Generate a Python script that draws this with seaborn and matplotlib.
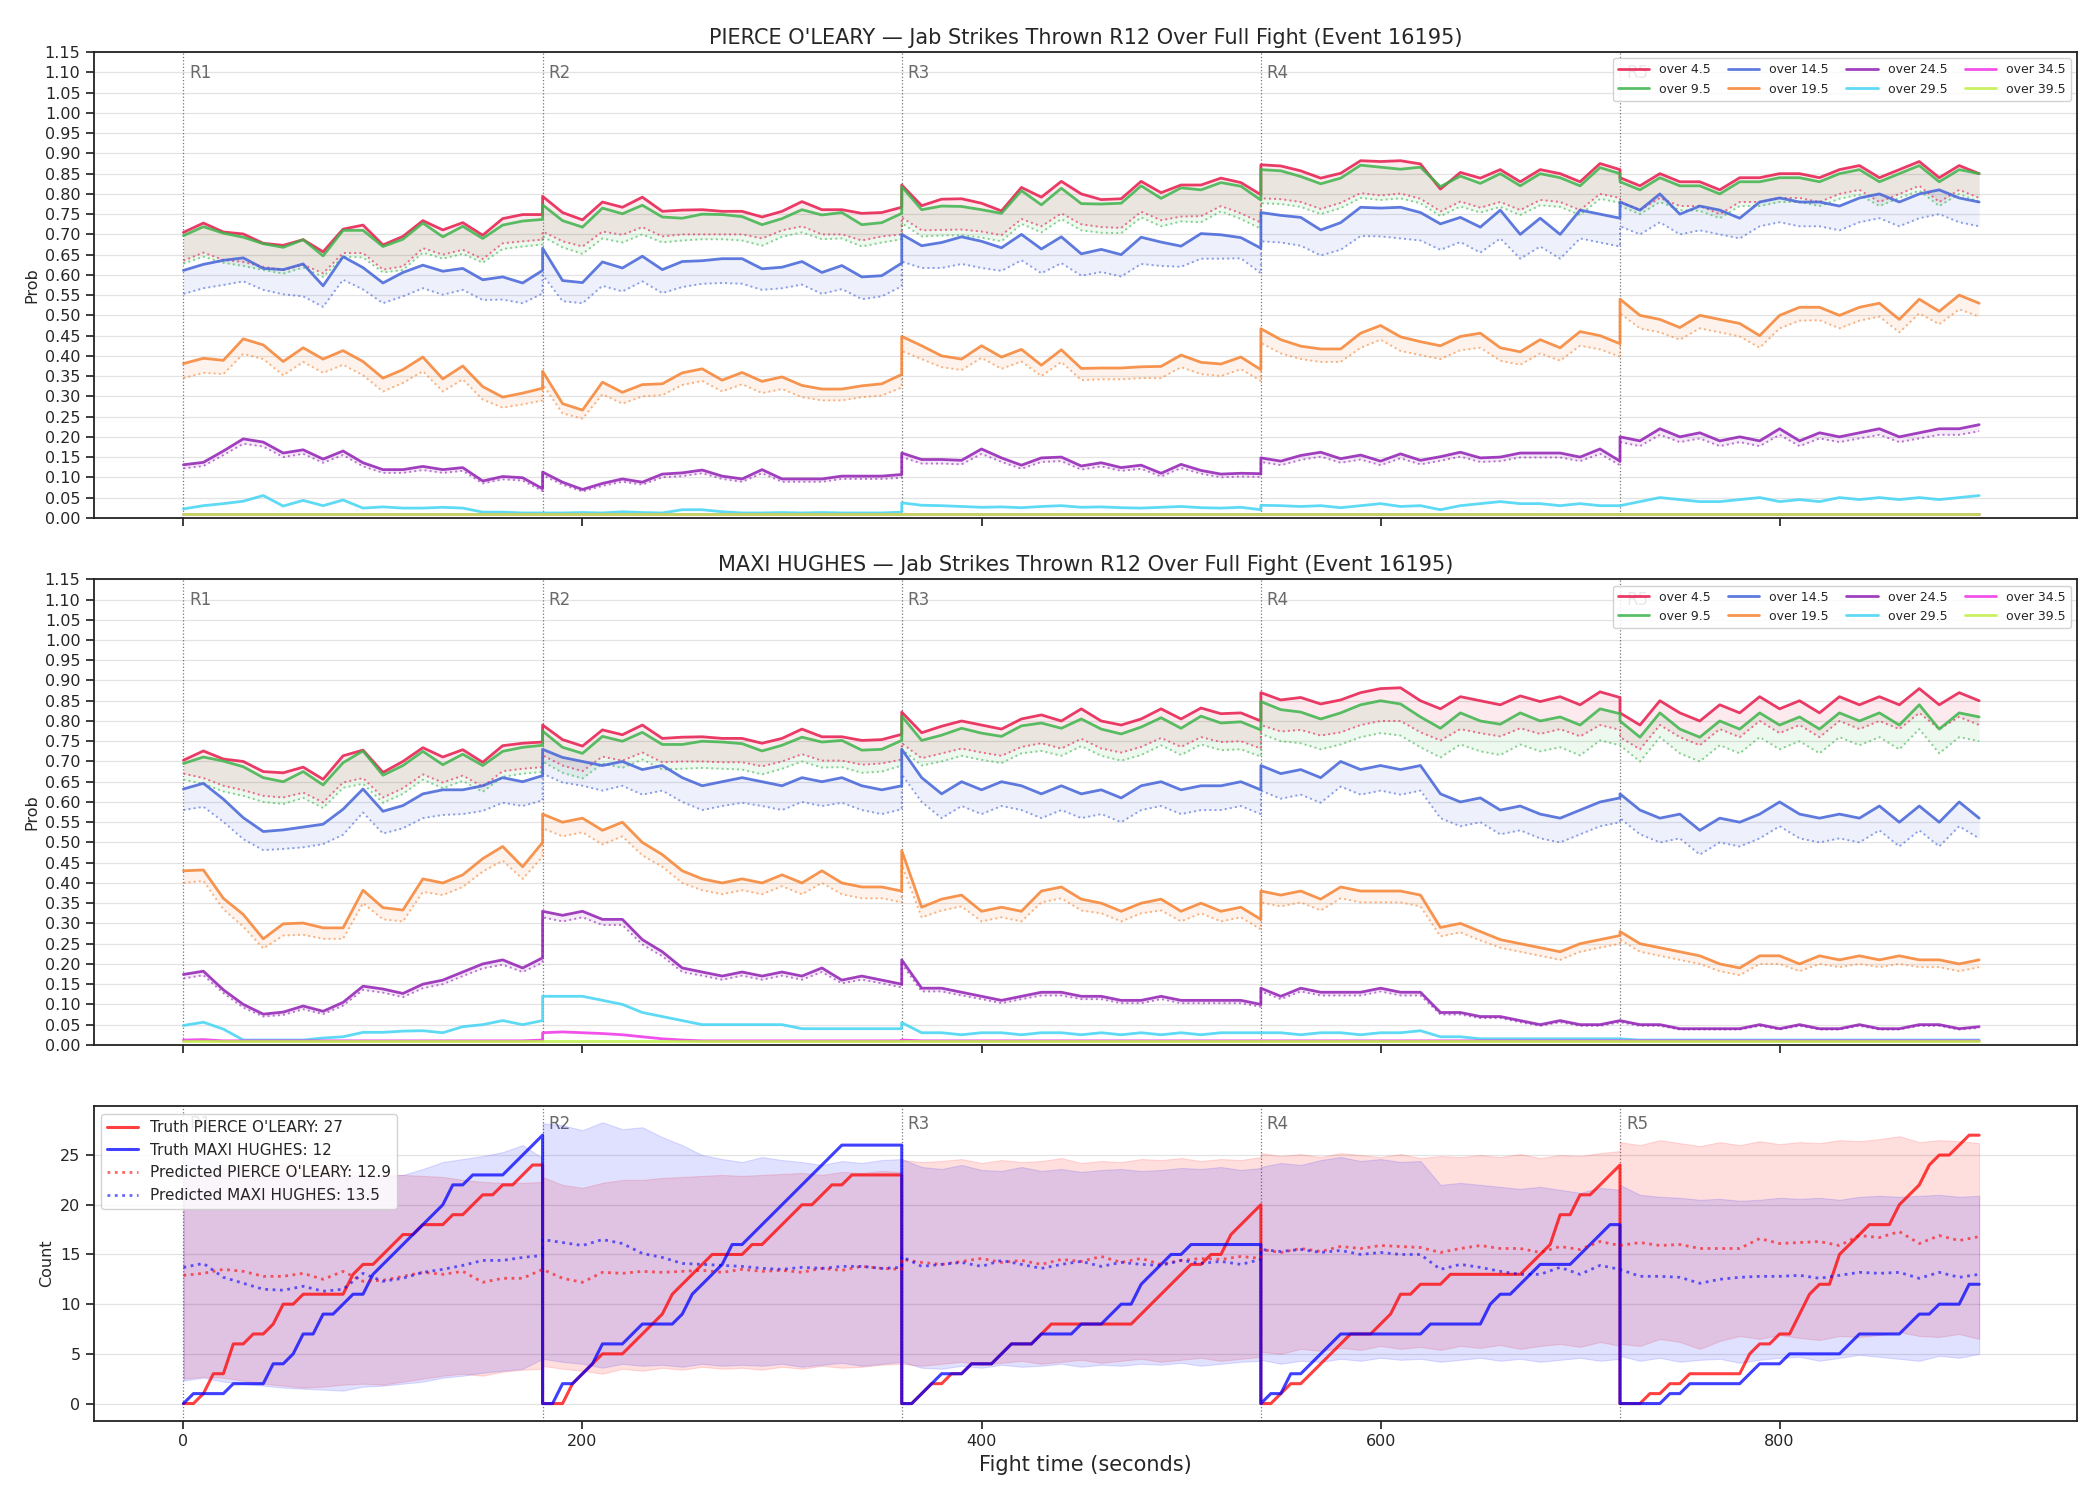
import numpy as np
import matplotlib
matplotlib.use("Agg")
import matplotlib.pyplot as plt
from matplotlib.lines import Line2D
import seaborn as sns

sns.set_theme(style="ticks")
plt.rcParams['font.family'] = ['DejaVu Sans']

FIGHTER_A = "PIERCE O'LEARY"
FIGHTER_B = "MAXI HUGHES"
TITLE_TAIL = "Jab Strikes Thrown R12 Over Full Fight (Event 16195)"
N_ROUNDS = 5
ROUND_LEN = 180
LINE_LABELS = ["over 4.5", "over 9.5", "over 14.5", "over 19.5",
               "over 24.5", "over 29.5", "over 34.5", "over 39.5"]
LINE_COLORS = ["#e6194b", "#3cb44b", "#4363d8", "#f58231",
               "#911eb4", "#42d4f4", "#f032e6", "#bfef45"]

# ---------------- top panel (PIERCE O'LEARY), 10 s samples, 19 per round ----
TOP_O45 = [0.705,0.728,0.706,0.701,0.678,0.673,0.687,0.657,0.713,0.723,0.674,0.695,0.734,0.711,0.729,0.698,0.739,0.749,0.749,
           0.794,0.754,0.736,0.780,0.767,0.792,0.757,0.760,0.761,0.757,0.757,0.743,0.757,0.781,0.761,0.761,0.752,0.754,0.767,
           0.822,0.771,0.787,0.788,0.777,0.758,0.816,0.792,0.831,0.800,0.786,0.788,0.831,0.803,0.822,0.822,0.839,0.828,0.798,
           0.872,0.869,0.857,0.839,0.851,0.882,0.880,0.882,0.874,0.812,0.853,0.839,0.860,0.830,0.860,0.850,0.830,0.875,0.860,
           0.840,0.820,0.850,0.830,0.830,0.810,0.840,0.840,0.850,0.850,0.840,0.860,0.870,0.840,0.860,0.880,0.840,0.870,0.850]
TOP_O45_LO = [0.635,0.655,0.637,0.632,0.620,0.612,0.625,0.604,0.654,0.654,0.613,0.621,0.666,0.650,0.662,0.639,0.678,0.683,0.687,
              0.707,0.683,0.670,0.707,0.699,0.718,0.695,0.700,0.700,0.700,0.700,0.690,0.710,0.720,0.700,0.700,0.685,0.695,0.700,
              0.742,0.710,0.711,0.712,0.707,0.698,0.738,0.720,0.752,0.725,0.718,0.716,0.756,0.735,0.744,0.745,0.770,0.752,0.729,
              0.789,0.787,0.780,0.763,0.778,0.802,0.796,0.801,0.788,0.757,0.781,0.766,0.780,0.760,0.785,0.780,0.760,0.800,0.790,
              0.780,0.760,0.790,0.770,0.770,0.750,0.780,0.780,0.790,0.790,0.780,0.800,0.810,0.780,0.800,0.820,0.780,0.810,0.790]
TOP_O95 = [0.697,0.719,0.703,0.693,0.677,0.668,0.687,0.647,0.710,0.710,0.670,0.688,0.728,0.694,0.720,0.690,0.723,0.733,0.737,
           0.773,0.734,0.718,0.765,0.751,0.772,0.743,0.740,0.750,0.749,0.744,0.724,0.739,0.761,0.748,0.754,0.724,0.729,0.752,
           0.818,0.761,0.770,0.769,0.761,0.752,0.808,0.773,0.814,0.776,0.775,0.777,0.820,0.789,0.815,0.810,0.828,0.819,0.785,
           0.860,0.857,0.843,0.825,0.839,0.871,0.866,0.861,0.866,0.818,0.844,0.826,0.850,0.820,0.850,0.840,0.820,0.865,0.850,
           0.830,0.810,0.840,0.820,0.820,0.800,0.830,0.830,0.840,0.840,0.830,0.850,0.860,0.830,0.850,0.870,0.830,0.860,0.850]
TOP_O95_LO = [0.628,0.645,0.630,0.622,0.612,0.603,0.618,0.595,0.645,0.643,0.606,0.612,0.655,0.640,0.652,0.630,0.664,0.670,0.675,
              0.695,0.668,0.652,0.690,0.680,0.700,0.680,0.685,0.688,0.688,0.685,0.672,0.694,0.705,0.688,0.690,0.670,0.680,0.688,
              0.728,0.695,0.697,0.698,0.692,0.683,0.726,0.705,0.738,0.710,0.704,0.703,0.742,0.720,0.732,0.730,0.757,0.738,0.714,
              0.777,0.775,0.768,0.750,0.765,0.790,0.785,0.789,0.777,0.745,0.769,0.754,0.768,0.748,0.772,0.768,0.748,0.788,0.778,
              0.770,0.750,0.780,0.760,0.758,0.740,0.770,0.770,0.780,0.780,0.770,0.788,0.798,0.770,0.790,0.808,0.770,0.800,0.780]
TOP_O145 = [0.611,0.626,0.636,0.642,0.616,0.613,0.627,0.573,0.645,0.618,0.580,0.606,0.624,0.609,0.616,0.588,0.595,0.580,0.611,
            0.666,0.586,0.581,0.632,0.617,0.646,0.613,0.633,0.635,0.640,0.640,0.615,0.619,0.633,0.606,0.623,0.595,0.598,0.629,
            0.700,0.672,0.680,0.694,0.683,0.667,0.700,0.664,0.694,0.652,0.663,0.650,0.693,0.681,0.671,0.702,0.699,0.692,0.666,
            0.754,0.747,0.742,0.711,0.729,0.767,0.765,0.767,0.754,0.726,0.742,0.718,0.760,0.700,0.740,0.700,0.760,0.750,0.740,
            0.780,0.760,0.800,0.750,0.770,0.760,0.740,0.780,0.790,0.780,0.780,0.770,0.790,0.800,0.780,0.800,0.810,0.790,0.780]
TOP_O145_LO = [0.553,0.567,0.575,0.584,0.563,0.552,0.547,0.521,0.588,0.564,0.530,0.547,0.567,0.551,0.563,0.538,0.539,0.530,0.554,
               0.600,0.535,0.530,0.573,0.559,0.584,0.555,0.570,0.578,0.580,0.578,0.563,0.567,0.576,0.553,0.565,0.540,0.547,0.572,
               0.633,0.617,0.617,0.627,0.617,0.610,0.636,0.604,0.629,0.598,0.607,0.596,0.627,0.622,0.620,0.640,0.640,0.641,0.604,
               0.683,0.680,0.672,0.648,0.662,0.696,0.695,0.690,0.685,0.662,0.681,0.655,0.690,0.640,0.670,0.640,0.690,0.680,0.670,
               0.720,0.700,0.730,0.700,0.710,0.700,0.690,0.720,0.730,0.720,0.720,0.710,0.730,0.740,0.720,0.740,0.750,0.730,0.720]
TOP_O195 = [0.381,0.394,0.389,0.442,0.427,0.386,0.420,0.392,0.413,0.386,0.345,0.366,0.397,0.343,0.375,0.324,0.298,0.308,0.320,
            0.362,0.282,0.266,0.335,0.310,0.329,0.331,0.358,0.368,0.340,0.359,0.337,0.348,0.327,0.318,0.318,0.326,0.331,0.354,
            0.448,0.425,0.400,0.392,0.425,0.397,0.416,0.377,0.415,0.369,0.370,0.370,0.373,0.374,0.402,0.384,0.380,0.397,0.366,
            0.467,0.440,0.424,0.417,0.417,0.456,0.475,0.447,0.435,0.425,0.448,0.456,0.420,0.410,0.440,0.420,0.460,0.450,0.430,
            0.540,0.500,0.490,0.470,0.500,0.490,0.480,0.450,0.500,0.520,0.520,0.500,0.520,0.530,0.490,0.540,0.510,0.550,0.530]
TOP_O195_LO = [0.345,0.358,0.355,0.405,0.392,0.352,0.385,0.358,0.378,0.352,0.312,0.333,0.362,0.312,0.342,0.292,0.272,0.280,0.290,
               0.330,0.258,0.245,0.305,0.282,0.300,0.303,0.328,0.338,0.312,0.330,0.308,0.318,0.298,0.290,0.290,0.298,0.302,0.322,
               0.412,0.392,0.372,0.365,0.395,0.368,0.386,0.350,0.385,0.340,0.342,0.342,0.345,0.345,0.372,0.355,0.350,0.367,0.338,
               0.432,0.406,0.392,0.385,0.385,0.420,0.440,0.412,0.402,0.392,0.414,0.420,0.388,0.378,0.406,0.388,0.425,0.416,0.398,
               0.505,0.468,0.458,0.440,0.468,0.458,0.448,0.420,0.468,0.487,0.488,0.468,0.487,0.497,0.458,0.505,0.478,0.515,0.497]
TOP_O245 = [0.131,0.137,0.165,0.195,0.187,0.160,0.168,0.145,0.165,0.136,0.119,0.119,0.127,0.119,0.124,0.091,0.102,0.099,0.072,
            0.113,0.088,0.070,0.085,0.096,0.088,0.108,0.111,0.118,0.103,0.096,0.119,0.096,0.096,0.096,0.103,0.103,0.103,0.107,
            0.160,0.144,0.144,0.142,0.170,0.148,0.130,0.148,0.150,0.128,0.136,0.124,0.130,0.110,0.132,0.117,0.108,0.110,0.109,
            0.148,0.140,0.154,0.162,0.146,0.155,0.140,0.158,0.142,0.151,0.162,0.148,0.150,0.160,0.160,0.160,0.150,0.170,0.140,
            0.200,0.190,0.220,0.200,0.210,0.190,0.200,0.190,0.220,0.190,0.210,0.200,0.210,0.220,0.200,0.210,0.220,0.220,0.230]
TOP_O245_LO = [0.122,0.128,0.155,0.183,0.176,0.150,0.158,0.136,0.155,0.127,0.111,0.111,0.118,0.111,0.116,0.085,0.095,0.092,0.066,
               0.105,0.082,0.065,0.079,0.089,0.082,0.100,0.103,0.110,0.096,0.089,0.110,0.089,0.089,0.089,0.096,0.096,0.096,0.099,
               0.150,0.134,0.134,0.132,0.158,0.138,0.121,0.138,0.140,0.119,0.127,0.116,0.121,0.102,0.123,0.109,0.100,0.102,0.101,
               0.138,0.130,0.143,0.151,0.136,0.144,0.130,0.147,0.132,0.141,0.151,0.138,0.140,0.149,0.149,0.149,0.140,0.158,0.130,
               0.187,0.177,0.205,0.187,0.196,0.177,0.187,0.177,0.205,0.177,0.196,0.187,0.196,0.205,0.187,0.196,0.205,0.205,0.214]
TOP_O295 = [0.022,0.030,0.035,0.041,0.055,0.029,0.043,0.030,0.044,0.024,0.027,0.024,0.024,0.026,0.024,0.014,0.014,0.012,0.012,
            0.012,0.012,0.013,0.012,0.015,0.013,0.012,0.020,0.020,0.015,0.012,0.012,0.013,0.012,0.013,0.012,0.012,0.012,0.014,
            0.037,0.031,0.030,0.028,0.026,0.027,0.025,0.028,0.030,0.026,0.027,0.025,0.024,0.026,0.028,0.025,0.024,0.026,0.020,
            0.031,0.030,0.028,0.030,0.025,0.030,0.035,0.028,0.030,0.020,0.030,0.035,0.040,0.035,0.035,0.030,0.035,0.030,0.030,
            0.030,0.040,0.050,0.045,0.040,0.040,0.045,0.050,0.040,0.045,0.040,0.050,0.045,0.050,0.045,0.050,0.045,0.050,0.055]
TOP_O345 = [0.010,0.010,0.010,0.010,0.010,0.010,0.010,0.010,0.010,0.010,0.010,0.010,0.010,0.010,0.010,0.010,0.010,0.010,0.010,
            0.010,0.010,0.010,0.010,0.010,0.010,0.010,0.010,0.010,0.010,0.010,0.010,0.010,0.010,0.010,0.010,0.010,0.010,0.010,
            0.010,0.010,0.010,0.010,0.010,0.010,0.010,0.010,0.010,0.010,0.010,0.010,0.010,0.010,0.010,0.010,0.010,0.010,0.010,
            0.010,0.010,0.010,0.010,0.010,0.010,0.010,0.010,0.010,0.010,0.010,0.010,0.010,0.010,0.010,0.010,0.010,0.010,0.010,
            0.010,0.010,0.010,0.010,0.010,0.010,0.010,0.010,0.010,0.010,0.010,0.010,0.010,0.010,0.010,0.010,0.010,0.010,0.010]
TOP_O395 = [0.010,0.010,0.010,0.010,0.010,0.010,0.010,0.010,0.010,0.010,0.010,0.010,0.010,0.010,0.010,0.010,0.010,0.010,0.010,
            0.010,0.010,0.010,0.010,0.010,0.010,0.010,0.010,0.010,0.010,0.010,0.010,0.010,0.010,0.010,0.010,0.010,0.010,0.010,
            0.010,0.010,0.010,0.010,0.010,0.010,0.010,0.010,0.010,0.010,0.010,0.010,0.010,0.010,0.010,0.010,0.010,0.010,0.010,
            0.010,0.010,0.010,0.010,0.010,0.010,0.010,0.010,0.010,0.010,0.010,0.010,0.010,0.010,0.010,0.010,0.010,0.010,0.010,
            0.010,0.010,0.010,0.010,0.010,0.010,0.010,0.010,0.010,0.010,0.010,0.010,0.010,0.010,0.010,0.010,0.010,0.010,0.010]

# ---------------- middle panel (MAXI HUGHES) ----------------
MID_O45 = [0.703,0.726,0.706,0.700,0.675,0.672,0.686,0.656,0.714,0.728,0.673,0.700,0.734,0.711,0.729,0.698,0.739,0.745,0.748,
           0.790,0.754,0.738,0.778,0.766,0.790,0.757,0.760,0.761,0.757,0.757,0.745,0.757,0.780,0.761,0.761,0.752,0.754,0.767,
           0.822,0.771,0.787,0.800,0.790,0.780,0.805,0.815,0.800,0.830,0.800,0.790,0.805,0.830,0.805,0.832,0.818,0.820,0.800,
           0.870,0.852,0.858,0.842,0.852,0.870,0.880,0.882,0.850,0.830,0.860,0.850,0.840,0.862,0.848,0.860,0.840,0.872,0.858,
           0.820,0.790,0.850,0.820,0.800,0.840,0.820,0.860,0.830,0.850,0.820,0.860,0.840,0.860,0.840,0.880,0.840,0.870,0.850]
MID_O45_LO = [0.670,0.659,0.640,0.629,0.615,0.611,0.623,0.599,0.648,0.659,0.611,0.634,0.668,0.648,0.665,0.638,0.676,0.682,0.686,
              0.715,0.690,0.676,0.712,0.702,0.722,0.698,0.700,0.700,0.698,0.698,0.688,0.700,0.718,0.702,0.702,0.692,0.695,0.705,
              0.745,0.708,0.720,0.732,0.722,0.714,0.736,0.745,0.732,0.756,0.732,0.722,0.736,0.758,0.736,0.760,0.748,0.750,0.732,
              0.790,0.774,0.778,0.764,0.772,0.790,0.800,0.800,0.772,0.752,0.780,0.770,0.762,0.782,0.768,0.780,0.762,0.790,0.778,
              0.760,0.730,0.790,0.760,0.740,0.780,0.760,0.800,0.770,0.790,0.760,0.800,0.780,0.800,0.780,0.820,0.780,0.810,0.790]
MID_O95 = [0.695,0.711,0.701,0.687,0.660,0.650,0.675,0.642,0.697,0.726,0.666,0.690,0.725,0.692,0.718,0.690,0.725,0.735,0.740,
           0.775,0.735,0.720,0.762,0.750,0.772,0.742,0.742,0.750,0.748,0.744,0.726,0.740,0.760,0.748,0.752,0.728,0.730,0.752,
           0.812,0.752,0.765,0.782,0.770,0.762,0.788,0.795,0.782,0.805,0.780,0.768,0.785,0.808,0.782,0.812,0.795,0.798,0.778,
           0.848,0.828,0.822,0.805,0.820,0.840,0.850,0.842,0.810,0.782,0.820,0.800,0.792,0.820,0.800,0.810,0.790,0.830,0.818,
           0.800,0.760,0.820,0.780,0.760,0.800,0.780,0.820,0.790,0.810,0.780,0.820,0.800,0.820,0.790,0.840,0.780,0.820,0.810]
MID_O95_LO = [0.655,0.645,0.626,0.615,0.600,0.595,0.610,0.585,0.635,0.645,0.598,0.620,0.655,0.634,0.652,0.625,0.662,0.670,0.674,
              0.700,0.672,0.658,0.695,0.684,0.705,0.680,0.682,0.684,0.682,0.680,0.668,0.682,0.700,0.685,0.686,0.672,0.675,0.690,
              0.730,0.690,0.700,0.714,0.704,0.696,0.720,0.726,0.714,0.738,0.714,0.702,0.716,0.740,0.716,0.742,0.728,0.730,0.712,
              0.768,0.750,0.745,0.730,0.742,0.760,0.770,0.764,0.735,0.710,0.742,0.725,0.716,0.742,0.725,0.735,0.715,0.752,0.740,
              0.740,0.700,0.760,0.720,0.700,0.740,0.720,0.760,0.730,0.750,0.720,0.760,0.740,0.760,0.730,0.780,0.720,0.760,0.750]
MID_O145 = [0.632,0.646,0.607,0.561,0.527,0.531,0.538,0.545,0.582,0.632,0.577,0.591,0.620,0.630,0.630,0.640,0.660,0.650,0.665,
            0.730,0.710,0.700,0.690,0.700,0.680,0.690,0.660,0.640,0.650,0.660,0.650,0.640,0.660,0.650,0.660,0.640,0.630,0.640,
            0.730,0.660,0.620,0.650,0.630,0.650,0.640,0.620,0.640,0.620,0.630,0.610,0.640,0.650,0.630,0.640,0.640,0.650,0.630,
            0.690,0.670,0.680,0.660,0.700,0.680,0.690,0.680,0.690,0.620,0.600,0.610,0.580,0.590,0.570,0.560,0.580,0.600,0.610,
            0.620,0.580,0.560,0.570,0.530,0.560,0.550,0.570,0.600,0.570,0.560,0.570,0.560,0.590,0.550,0.590,0.550,0.600,0.560]
MID_O145_LO = [0.580,0.588,0.551,0.508,0.481,0.484,0.488,0.496,0.519,0.574,0.522,0.535,0.560,0.568,0.570,0.578,0.598,0.590,0.604,
               0.670,0.648,0.640,0.628,0.640,0.618,0.628,0.600,0.580,0.590,0.598,0.590,0.580,0.600,0.590,0.598,0.580,0.570,0.582,
               0.668,0.600,0.560,0.590,0.570,0.590,0.580,0.560,0.580,0.560,0.570,0.550,0.580,0.590,0.570,0.580,0.580,0.590,0.570,
               0.628,0.608,0.618,0.598,0.638,0.618,0.628,0.618,0.628,0.560,0.540,0.550,0.520,0.530,0.510,0.500,0.520,0.540,0.550,
               0.560,0.520,0.500,0.510,0.470,0.500,0.490,0.510,0.540,0.510,0.500,0.510,0.500,0.530,0.490,0.530,0.490,0.540,0.510]
MID_O195 = [0.430,0.432,0.362,0.322,0.262,0.299,0.301,0.289,0.289,0.382,0.339,0.333,0.410,0.400,0.420,0.460,0.490,0.440,0.500,
            0.570,0.550,0.560,0.530,0.550,0.500,0.470,0.430,0.410,0.400,0.410,0.400,0.420,0.400,0.430,0.400,0.390,0.390,0.380,
            0.480,0.340,0.360,0.370,0.330,0.340,0.330,0.380,0.390,0.360,0.350,0.330,0.350,0.360,0.330,0.350,0.330,0.340,0.310,
            0.380,0.370,0.380,0.360,0.390,0.380,0.380,0.380,0.370,0.290,0.300,0.280,0.260,0.250,0.240,0.230,0.250,0.260,0.270,
            0.280,0.250,0.240,0.230,0.220,0.200,0.190,0.220,0.220,0.200,0.220,0.210,0.220,0.210,0.220,0.210,0.210,0.200,0.210]
MID_O195_LO = [0.400,0.405,0.335,0.292,0.238,0.270,0.272,0.262,0.262,0.350,0.310,0.305,0.378,0.370,0.390,0.428,0.455,0.410,0.465,
               0.535,0.515,0.525,0.495,0.515,0.468,0.440,0.400,0.382,0.372,0.382,0.372,0.392,0.372,0.400,0.372,0.362,0.362,0.352,
               0.445,0.315,0.332,0.342,0.305,0.315,0.305,0.352,0.362,0.332,0.325,0.305,0.325,0.332,0.305,0.325,0.305,0.315,0.285,
               0.352,0.342,0.352,0.332,0.362,0.352,0.352,0.352,0.342,0.268,0.278,0.258,0.240,0.230,0.220,0.210,0.230,0.240,0.250,
               0.260,0.230,0.220,0.210,0.200,0.182,0.172,0.200,0.200,0.182,0.200,0.192,0.200,0.192,0.200,0.192,0.192,0.182,0.192]
MID_O245 = [0.174,0.182,0.136,0.100,0.076,0.081,0.096,0.083,0.105,0.145,0.138,0.127,0.150,0.160,0.180,0.200,0.210,0.190,0.215,
            0.330,0.320,0.330,0.310,0.310,0.260,0.230,0.190,0.180,0.170,0.180,0.170,0.180,0.170,0.190,0.160,0.170,0.160,0.150,
            0.210,0.140,0.140,0.130,0.120,0.110,0.120,0.130,0.130,0.120,0.120,0.110,0.110,0.120,0.110,0.110,0.110,0.110,0.100,
            0.140,0.120,0.140,0.130,0.130,0.130,0.140,0.130,0.130,0.080,0.080,0.070,0.070,0.060,0.050,0.060,0.050,0.050,0.060,
            0.060,0.050,0.050,0.040,0.040,0.040,0.040,0.050,0.040,0.050,0.040,0.040,0.050,0.040,0.040,0.050,0.050,0.040,0.045]
MID_O245_LO = [0.164,0.172,0.128,0.092,0.070,0.074,0.088,0.076,0.097,0.136,0.129,0.118,0.140,0.150,0.170,0.189,0.198,0.180,0.203,
               0.315,0.305,0.315,0.296,0.296,0.248,0.219,0.180,0.171,0.161,0.171,0.161,0.171,0.161,0.180,0.152,0.161,0.152,0.142,
               0.200,0.132,0.132,0.122,0.113,0.103,0.113,0.122,0.122,0.113,0.113,0.103,0.103,0.113,0.103,0.103,0.103,0.103,0.094,
               0.132,0.113,0.132,0.122,0.122,0.122,0.132,0.122,0.122,0.075,0.075,0.066,0.066,0.056,0.047,0.056,0.047,0.047,0.056,
               0.056,0.047,0.047,0.038,0.038,0.038,0.038,0.047,0.038,0.047,0.038,0.038,0.047,0.038,0.038,0.047,0.047,0.038,0.042]
MID_O295 = [0.048,0.056,0.039,0.012,0.012,0.012,0.012,0.017,0.020,0.031,0.031,0.034,0.035,0.030,0.045,0.050,0.060,0.050,0.060,
            0.120,0.120,0.120,0.110,0.100,0.080,0.070,0.060,0.050,0.050,0.050,0.050,0.050,0.040,0.040,0.040,0.040,0.040,0.040,
            0.055,0.030,0.030,0.025,0.030,0.030,0.025,0.030,0.030,0.025,0.030,0.025,0.030,0.025,0.030,0.025,0.030,0.030,0.030,
            0.030,0.030,0.025,0.030,0.030,0.025,0.030,0.030,0.035,0.020,0.020,0.015,0.015,0.015,0.015,0.015,0.015,0.015,0.015,
            0.015,0.012,0.012,0.012,0.012,0.012,0.012,0.012,0.012,0.012,0.012,0.012,0.012,0.012,0.012,0.012,0.012,0.012,0.012]
MID_O345 = [0.012,0.013,0.010,0.010,0.010,0.010,0.010,0.010,0.010,0.010,0.010,0.010,0.010,0.010,0.010,0.010,0.010,0.010,0.012,
            0.030,0.032,0.030,0.028,0.025,0.020,0.015,0.012,0.010,0.010,0.010,0.010,0.010,0.010,0.010,0.010,0.010,0.010,0.010,
            0.012,0.010,0.010,0.010,0.010,0.010,0.010,0.010,0.010,0.010,0.010,0.010,0.010,0.010,0.010,0.010,0.010,0.010,0.010,
            0.010,0.010,0.010,0.010,0.010,0.010,0.010,0.010,0.010,0.010,0.010,0.010,0.010,0.010,0.010,0.010,0.010,0.010,0.010,
            0.010,0.010,0.010,0.010,0.010,0.010,0.010,0.010,0.010,0.010,0.010,0.010,0.010,0.010,0.010,0.010,0.010,0.010,0.010]
MID_O395 = [0.010,0.010,0.010,0.010,0.010,0.010,0.010,0.010,0.010,0.010,0.010,0.010,0.010,0.010,0.010,0.010,0.010,0.010,0.010,
            0.010,0.010,0.010,0.010,0.010,0.010,0.010,0.010,0.010,0.010,0.010,0.010,0.010,0.010,0.010,0.010,0.010,0.010,0.010,
            0.010,0.010,0.010,0.010,0.010,0.010,0.010,0.010,0.010,0.010,0.010,0.010,0.010,0.010,0.010,0.010,0.010,0.010,0.010,
            0.010,0.010,0.010,0.010,0.010,0.010,0.010,0.010,0.010,0.010,0.010,0.010,0.010,0.010,0.010,0.010,0.010,0.010,0.010,
            0.010,0.010,0.010,0.010,0.010,0.010,0.010,0.010,0.010,0.010,0.010,0.010,0.010,0.010,0.010,0.010,0.010,0.010,0.010]

# ---------------- bottom panel: cumulative counts, 5 s samples (37 per round) ----
TRUTH_A = [0,0,1,3,3,6,6,7,7,8,10,10,11,11,11,11,11,13,14,14,15,16,17,17,18,18,18,19,19,20,21,21,22,22,23,24,24,
           0,0,0,2,3,4,5,5,5,6,7,8,9,11,12,13,14,15,15,15,15,16,16,17,18,19,20,20,21,22,22,23,23,23,23,23,23,
           0,0,1,2,2,3,3,4,4,4,5,6,6,6,7,8,8,8,8,8,8,8,8,8,9,10,11,12,13,14,14,15,15,17,18,19,20,
           0,0,1,2,2,3,4,5,6,7,7,7,8,9,11,11,12,12,12,13,13,13,13,13,13,13,13,14,15,16,19,19,21,21,22,23,24,
           0,0,0,1,1,2,2,3,3,3,3,3,3,5,6,6,7,7,9,11,12,12,15,16,17,18,18,18,20,21,22,24,25,25,26,27,27]
TRUTH_B = [0,1,1,1,1,2,2,2,2,4,4,5,7,7,9,9,10,11,11,13,14,15,16,17,18,19,20,22,22,23,23,23,23,24,25,26,27,
           0,0,2,2,3,4,6,6,6,7,8,8,8,8,9,11,12,13,14,16,16,17,18,19,20,21,22,23,24,25,26,26,26,26,26,26,26,
           0,0,1,2,3,3,3,4,4,4,5,6,6,6,7,7,7,7,8,8,8,9,10,10,12,13,14,15,15,16,16,16,16,16,16,16,16,
           0,1,1,3,3,4,5,6,7,7,7,7,7,7,7,7,7,8,8,8,8,8,8,10,11,11,12,13,14,14,14,14,15,16,17,18,18,
           0,0,0,0,0,1,1,2,2,2,2,2,2,3,4,4,4,5,5,5,5,5,5,6,7,7,7,7,7,8,9,9,10,10,10,12,12]
# 10 s samples (19 per round)
PRED_A = [12.9,13.1,13.5,13.3,12.8,12.8,13.1,12.5,13.3,12.3,12.4,12.8,13.2,13.0,13.3,12.2,12.6,12.6,13.5,
          13.5,12.6,12.2,13.2,13.1,13.3,13.2,13.3,13.4,13.2,13.5,13.3,13.4,13.2,13.6,13.4,13.8,13.6,13.5,
          14.5,14.2,14.0,14.3,14.6,14.2,14.4,14.0,14.5,14.3,14.8,14.2,14.6,14.0,14.4,14.6,14.5,14.8,14.6,
          15.5,15.2,15.6,15.3,15.8,15.6,15.9,15.8,15.7,15.2,15.6,15.9,15.6,15.6,15.2,15.8,15.5,16.3,15.9,
          15.9,16.2,15.9,16.0,15.6,15.6,15.6,16.6,16.1,16.2,16.3,15.9,16.9,16.7,17.3,16.1,16.9,16.4,16.8]
PRED_B = [13.7,14.1,12.7,12.1,11.5,11.4,11.8,11.3,11.5,13.1,12.3,12.6,13.2,13.5,13.9,14.4,14.4,14.7,14.9,
          16.5,16.2,15.9,16.5,16.1,15.1,14.7,14.1,14.0,13.9,13.8,13.6,13.5,13.7,13.6,13.8,13.8,13.6,13.7,
          14.8,13.8,14.0,14.2,13.8,14.4,14.0,13.6,14.0,14.3,13.8,14.2,14.0,13.9,14.4,14.1,14.3,14.0,14.5,
          15.5,15.3,15.5,15.2,15.4,15.0,15.2,15.0,15.0,13.5,14.0,13.7,13.3,13.0,13.0,13.7,13.0,13.9,13.5,
          13.5,12.8,12.8,12.7,12.1,12.5,12.7,12.8,12.8,12.9,12.6,12.9,13.2,13.1,13.2,12.6,13.2,12.7,13.0]
BAND_A_HI = [23.0,23.2,23.6,23.9,24.1,24.2,24.2,24.0,23.6,23.2,23.0,23.0,22.9,22.8,22.5,22.3,22.2,22.2,22.3,
             22.8,22.0,21.7,22.2,22.5,22.5,22.7,22.8,22.9,23.0,22.9,23.0,23.1,23.2,23.0,23.3,23.2,23.4,23.3,
             24.5,24.3,24.4,24.6,24.2,24.5,24.3,24.4,24.7,24.2,24.4,24.3,24.6,24.5,24.7,24.4,24.6,24.5,24.8,
             25.2,24.9,25.1,24.8,25.2,25.0,24.8,25.1,24.7,24.9,24.8,25.0,24.8,25.1,24.7,25.0,24.9,25.2,25.4,
             26.3,26.0,26.5,26.2,25.9,26.3,26.0,26.4,26.1,26.3,26.2,26.5,26.4,26.6,26.9,26.3,26.5,26.4,26.2]
BAND_A_LO = [2.5,2.7,2.6,2.3,2.0,1.8,1.6,1.7,1.9,2.0,1.9,2.2,2.5,2.8,3.0,2.8,3.2,3.4,3.5,
             3.8,3.5,3.3,3.0,3.5,3.3,3.6,3.4,3.7,3.5,3.6,3.4,3.7,3.5,3.8,3.6,3.7,3.9,4.0,
             4.0,3.8,4.0,4.2,3.9,4.1,4.3,4.0,4.2,4.4,4.1,4.3,4.5,4.2,4.4,4.6,4.3,4.5,4.7,
             5.2,5.0,5.5,5.3,5.6,5.4,5.8,5.5,5.7,5.4,5.8,5.6,5.9,5.5,5.8,6.0,5.7,6.2,5.8,
             6.0,5.8,6.5,6.2,5.5,6.3,6.8,6.5,6.9,6.6,6.4,6.8,6.7,6.9,7.2,6.8,6.7,7.0,6.5]
BAND_B_HI = [25.2,25.0,24.0,23.5,23.3,23.0,22.9,22.9,23.0,22.9,22.9,23.0,23.6,24.3,24.6,24.9,25.3,26.0,24.7,
             28.2,28.0,27.5,28.3,27.6,27.8,26.8,26.0,25.0,24.6,24.3,24.8,24.5,24.3,24.0,24.4,24.2,24.5,24.6,
             24.6,23.8,23.6,24.0,23.5,23.4,23.8,23.4,23.6,23.3,23.5,23.6,23.4,23.5,23.7,23.6,23.8,23.5,23.7,
             23.8,24.2,24.0,24.5,24.8,24.4,24.6,24.3,24.4,22.0,22.2,22.0,21.8,21.6,21.8,21.5,21.2,21.7,21.5,
             22.0,21.0,20.8,20.7,20.5,20.6,20.4,20.5,20.7,20.6,20.7,20.5,20.8,20.9,20.8,20.9,21.0,20.8,20.9]
BAND_B_LO = [2.3,2.6,2.2,2.0,1.8,1.6,1.5,1.4,1.3,1.7,1.8,2.0,2.2,2.6,2.8,3.1,3.3,3.5,4.5,
             4.5,4.2,4.0,3.6,4.0,3.8,3.9,3.7,4.0,3.8,3.9,3.8,4.0,3.7,3.9,4.1,3.8,4.0,4.2,
             4.2,3.6,3.5,3.8,3.6,3.9,3.7,3.8,4.0,3.7,3.9,3.8,4.0,3.9,4.1,3.8,4.0,4.2,4.3,
             4.4,4.0,4.3,4.2,4.5,4.3,4.6,4.4,4.5,4.2,4.4,4.6,4.3,4.5,4.2,4.4,4.6,4.3,4.5,
             4.8,4.3,4.6,4.2,4.4,4.5,4.1,4.4,4.6,4.7,4.3,4.6,4.9,4.7,4.5,4.3,4.8,4.6,5.0]


def round_times(step):
    return np.concatenate([np.arange(0, ROUND_LEN + 1, step) + r * ROUND_LEN
                           for r in range(N_ROUNDS)])


T10 = round_times(10)
T5 = round_times(5)
ROUND_STARTS = [r * ROUND_LEN for r in range(N_ROUNDS)]

fig = plt.figure(figsize=(21, 15), dpi=100)
gs = fig.add_gridspec(3, 1, height_ratios=[1.48, 1.48, 1.0], hspace=0.148,
                      left=0.0446, right=0.989, top=0.9652, bottom=0.0527)
ax_top = fig.add_subplot(gs[0])
ax_mid = fig.add_subplot(gs[1], sharex=ax_top)
ax_bot = fig.add_subplot(gs[2], sharex=ax_top)

GRID_KW = dict(color="#e3e3e3", linewidth=0.9)
TICK_FS = 11.5


def mark_rounds(ax, yfrac):
    for i, x0 in enumerate(ROUND_STARTS):
        ax.axvline(x0, color="#555555", linewidth=0.9, linestyle=":", alpha=0.8, zorder=1)
        ax.text(x0 + 3, yfrac, f"R{i + 1}", transform=ax.get_xaxis_transform(),
                color="#6a6a6a", fontsize=12, va="center", ha="left", zorder=1)


def prob_panel(ax, solids, lowers, title):
    for col, y, lo in zip(LINE_COLORS, solids, lowers):
        if lo is not None:
            ax.fill_between(T10, lo, y, color=col, alpha=0.09, linewidth=0, zorder=2)
            sns.lineplot(x=T10, y=lo, ax=ax, color=col, linewidth=1.4, linestyle=":",
                         alpha=0.6, estimator=None, sort=False, zorder=3)
        sns.lineplot(x=T10, y=y, ax=ax, color=col, linewidth=2.0, alpha=0.85,
                     estimator=None, sort=False, zorder=4)
    ax.set_ylim(0, 1.15)
    ax.set_yticks(np.round(np.arange(0, 1.151, 0.05), 2))
    ax.set_yticklabels([f"{v:.2f}" for v in np.arange(0, 1.151, 0.05)])
    ax.grid(axis="y", **GRID_KW)
    ax.set_axisbelow(True)
    ax.set_ylabel("Prob", fontsize=11.5)
    ax.set_title(title, fontsize=15)
    mark_rounds(ax, 0.955)
    handles = [Line2D([0], [0], color=c, lw=2.0, alpha=0.85) for c in LINE_COLORS]
    leg = ax.legend(handles, LINE_LABELS, loc="upper right", ncol=4, fontsize=9,
                    framealpha=0.85, handlelength=2.5, columnspacing=1.4)
    leg.set_zorder(10)
    ax.tick_params(axis="both", labelsize=TICK_FS)
    plt.setp(ax.get_xticklabels(), visible=False)


prob_panel(ax_top,
           [TOP_O45, TOP_O95, TOP_O145, TOP_O195, TOP_O245, TOP_O295, TOP_O345, TOP_O395],
           [TOP_O45_LO, TOP_O95_LO, TOP_O145_LO, TOP_O195_LO, TOP_O245_LO, None, None, None],
           f"{FIGHTER_A} \u2014 {TITLE_TAIL}")
prob_panel(ax_mid,
           [MID_O45, MID_O95, MID_O145, MID_O195, MID_O245, MID_O295, MID_O345, MID_O395],
           [MID_O45_LO, MID_O95_LO, MID_O145_LO, MID_O195_LO, MID_O245_LO, None, None, None],
           f"{FIGHTER_B} \u2014 {TITLE_TAIL}")

# bottom panel
RED = "#ff0000"
BLUE = "#0000ff"
ax_bot.fill_between(T10, BAND_A_LO, BAND_A_HI, facecolor=RED, alpha=0.13,
                    edgecolor=RED, linewidth=0.8, zorder=2)
ax_bot.fill_between(T10, BAND_B_LO, BAND_B_HI, facecolor=BLUE, alpha=0.12,
                    edgecolor=BLUE, linewidth=0.8, zorder=2)
sns.lineplot(x=T5, y=TRUTH_A, ax=ax_bot, color=RED, linewidth=2.2, alpha=0.75,
             estimator=None, sort=False, zorder=4)
sns.lineplot(x=T5, y=TRUTH_B, ax=ax_bot, color=BLUE, linewidth=2.2, alpha=0.75,
             estimator=None, sort=False, zorder=4)
sns.lineplot(x=T10, y=PRED_A, ax=ax_bot, color=RED, linewidth=2.0, linestyle=":",
             alpha=0.6, estimator=None, sort=False, zorder=5)
sns.lineplot(x=T10, y=PRED_B, ax=ax_bot, color=BLUE, linewidth=2.0, linestyle=":",
             alpha=0.6, estimator=None, sort=False, zorder=5)
ax_bot.set_ylim(-1.75, 29.9)
ax_bot.set_yticks([0, 5, 10, 15, 20, 25])
ax_bot.grid(axis="y", **GRID_KW)
ax_bot.set_axisbelow(True)
mark_rounds(ax_bot, 0.945)
ax_bot.set_ylabel("Count", fontsize=11.5)
ax_bot.set_xlabel("Fight time (seconds)", fontsize=15)
ax_bot.set_xticks([0, 200, 400, 600, 800])
ax_bot.tick_params(axis="both", labelsize=TICK_FS)
bh = [Line2D([0], [0], color=RED, lw=2.2, alpha=0.75),
      Line2D([0], [0], color=BLUE, lw=2.2, alpha=0.75),
      Line2D([0], [0], color=RED, lw=2.0, ls=":", alpha=0.6),
      Line2D([0], [0], color=BLUE, lw=2.0, ls=":", alpha=0.6)]
bl = [f"Truth {FIGHTER_A}: {TRUTH_A[-1]}", f"Truth {FIGHTER_B}: {TRUTH_B[-1]}",
      f"Predicted {FIGHTER_A}: 12.9", f"Predicted {FIGHTER_B}: 13.5"]
leg = ax_bot.legend(bh, bl, loc="upper left", fontsize=11, framealpha=0.85)
leg.set_zorder(10)

ax_top.set_xlim(-45, 949)
for ax in (ax_top, ax_mid, ax_bot):
    for s in ax.spines.values():
        s.set_color("#222222")
        s.set_linewidth(1.3)

fig.savefig("out.png", dpi=100)
